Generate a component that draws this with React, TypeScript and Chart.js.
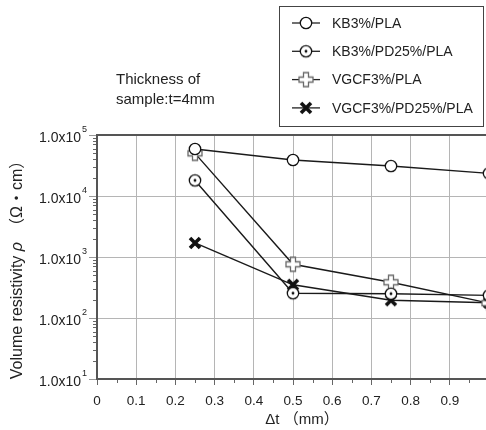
import React, { useEffect, useRef } from 'react';
import { Chart, registerables } from 'chart.js';
Chart.register(...registerables);

// ---- data ----
const xValues = [0.25, 0.5, 0.75, 1.0];
const seriesLabels = ['KB3%/PLA', 'KB3%/PD25%/PLA', 'VGCF3%/PLA', 'VGCF3%/PD25%/PLA'];
const kb3Pla = [59000, 39000, 31000, 23500];
const kb3Pd25Pla = [18000, 255, 250, 235];
const vgcf3Pla = [50000, 760, 385, 175];
const vgcf3Pd25Pla = [1700, 350, 195, 178];
const yTickValues = [1e1, 1e2, 1e3, 1e4, 1e5];
const yTickBase = '1.0x10';
const xTitle = 'Δt （mm）';
const yTitleMain = 'Volume resistivity ';
const yTitleSymbol = 'ρ';
const yTitleUnit = '　（Ω・cm）';
const noteLines = ['Thickness of', 'sample:t=4mm'];

const FONT = "'Liberation Sans', Arial, 'Noto Sans CJK JP', sans-serif";

function makeMarker(kind: number): HTMLCanvasElement {
  const c = document.createElement('canvas');
  c.width = 18;
  c.height = 18;
  const g = c.getContext('2d') as CanvasRenderingContext2D;
  g.translate(9, 9);
  if (kind === 0 || kind === 1) {
    g.beginPath();
    g.arc(0, 0, 5.7, 0, Math.PI * 2);
    g.fillStyle = '#fff';
    g.fill();
    g.lineWidth = 1.3;
    g.strokeStyle = '#111';
    g.stroke();
    if (kind === 1) {
      g.beginPath();
      g.arc(0, 0, 1.4, 0, Math.PI * 2);
      g.fillStyle = '#111';
      g.fill();
    }
  } else if (kind === 2) {
    const a = 7, w = 2.5;
    g.beginPath();
    g.moveTo(-w, -a); g.lineTo(w, -a); g.lineTo(w, -w); g.lineTo(a, -w);
    g.lineTo(a, w); g.lineTo(w, w); g.lineTo(w, a); g.lineTo(-w, a);
    g.lineTo(-w, w); g.lineTo(-a, w); g.lineTo(-a, -w); g.lineTo(-w, -w);
    g.closePath();
    g.fillStyle = '#fff';
    g.fill();
    g.lineWidth = 1.3;
    g.strokeStyle = '#6a6a6a';
    g.stroke();
  } else {
    g.beginPath();
    g.moveTo(-5, -5); g.lineTo(5, 5);
    g.moveTo(-5, 5); g.lineTo(5, -5);
    g.lineWidth = 3.6;
    g.strokeStyle = '#111';
    g.stroke();
  }
  return c;
}

export default function App() {
  const ref = useRef<HTMLCanvasElement>(null);

  useEffect(() => {
    const canvas = ref.current as HTMLCanvasElement;
    const markers = [0, 1, 2, 3].map(makeMarker);
    const seriesValues = [kb3Pla, kb3Pd25Pla, vgcf3Pla, vgcf3Pd25Pla];

    const extras = {
      id: 'extras',
      beforeDatasetsDraw(chart: any) {
        const { ctx, chartArea } = chart;
        const xs = chart.scales.x;
        const ys = chart.scales.y;
        ctx.save();
        // top frame line
        ctx.strokeStyle = '#555';
        ctx.lineWidth = 2;
        ctx.beginPath();
        ctx.moveTo(chartArea.left - 1, chartArea.top);
        ctx.lineTo(chartArea.right + 5, chartArea.top);
        ctx.stroke();
        // y minor ticks
        ctx.lineWidth = 1;
        ctx.strokeStyle = '#666';
        ctx.beginPath();
        for (let d = 1; d < 5; d++) {
          for (let m = 2; m <= 9; m++) {
            const y = Math.round(ys.getPixelForValue(m * Math.pow(10, d))) + 0.5;
            ctx.moveTo(chartArea.left - 4, y);
            ctx.lineTo(chartArea.left - 1, y);
          }
        }
        // x minor ticks
        for (let k = 0; k < 10; k++) {
          const x = Math.round(xs.getPixelForValue(0.05 + k * 0.1)) + 0.5;
          ctx.moveTo(x, chartArea.bottom + 1);
          ctx.lineTo(x, chartArea.bottom + 4);
        }
        ctx.stroke();
        // y tick labels with superscript exponent
        ctx.fillStyle = '#222';
        ys.ticks.forEach((t: any) => {
          const y = ys.getPixelForValue(t.value);
          const exp = String(Math.round(Math.log10(t.value)));
          ctx.font = `14px ${FONT}`;
          ctx.textAlign = 'right';
          ctx.textBaseline = 'middle';
          ctx.fillText(yTickBase, 81, y + 3);
          ctx.font = `9px ${FONT}`;
          ctx.textAlign = 'left';
          ctx.fillText(exp, 82, y - 5);
        });
        ctx.restore();
      },
      afterDraw(chart: any) {
        const { ctx } = chart;
        ctx.save();
        ctx.fillStyle = '#222';
        ctx.font = `15px ${FONT}`;
        // note
        ctx.textAlign = 'left';
        ctx.textBaseline = 'middle';
        ctx.fillText(noteLines[0], 116, 80);
        ctx.fillText(noteLines[1], 116, 100);
        // x title
        ctx.textAlign = 'center';
        ctx.fillText(xTitle, 302, 420);
        // y title (rotated, with italic rho)
        ctx.save();
        ctx.translate(18, 266);
        ctx.rotate(-Math.PI / 2);
        const fN = `16px ${FONT}`;
        const fI = `italic 16px ${FONT}`;
        ctx.font = fN;
        const w1 = ctx.measureText(yTitleMain).width;
        const w3 = ctx.measureText(yTitleUnit).width;
        ctx.font = fI;
        const w2 = ctx.measureText(yTitleSymbol).width;
        let x0 = -(w1 + w2 + w3) / 2;
        ctx.textAlign = 'left';
        ctx.font = fN;
        ctx.fillText(yTitleMain, x0, 0);
        x0 += w1;
        ctx.font = fI;
        ctx.fillText(yTitleSymbol, x0, 0);
        x0 += w2;
        ctx.font = fN;
        ctx.fillText(yTitleUnit, x0, 0);
        ctx.restore();
        // legend
        ctx.fillStyle = '#fff';
        ctx.fillRect(279, 6, 204, 120);
        ctx.strokeStyle = '#444';
        ctx.lineWidth = 1;
        ctx.strokeRect(279.5, 6.5, 204, 120);
        ctx.font = `14px ${FONT}`;
        ctx.textAlign = 'left';
        ctx.fillStyle = '#222';
        seriesLabels.forEach((lab, i) => {
          const y = 23 + i * 28.3;
          ctx.strokeStyle = '#222';
          ctx.lineWidth = 1.3;
          ctx.beginPath();
          ctx.moveTo(292, y);
          ctx.lineTo(320, y);
          ctx.stroke();
          const mk = markers[i];
          ctx.drawImage(mk, 306 - mk.width / 2, y - mk.height / 2);
          ctx.fillText(lab, 332, y + 1);
        });
        ctx.restore();
      },
    };

    const chart = new Chart(canvas, {
      type: 'line',
      data: {
        datasets: seriesLabels.map((label, i) => ({
          label,
          data: xValues.map((x, j) => ({ x, y: seriesValues[i][j] })),
          borderColor: '#1a1a1a',
          borderWidth: 1.4,
          pointStyle: markers[i] as any,
          pointRadius: 6,
          pointHoverRadius: 6,
          fill: false,
          tension: 0,
        })),
      },
      options: {
        responsive: false,
        animation: false,
        devicePixelRatio: 1,
        layout: { padding: { left: 0, top: 135, right: 21, bottom: 0 } },
        plugins: { legend: { display: false }, tooltip: { enabled: false } },
        scales: {
          x: {
            type: 'linear',
            min: 0,
            max: 1,
            afterFit: (s: any) => { s.height = 51; },
            ticks: {
              stepSize: 0.1,
              color: '#222',
              font: { family: FONT, size: 13.5 },
              padding: 8,
              maxRotation: 0,
              autoSkip: false,
              callback: (v: any) => {
                const n = Number(v);
                if (n >= 0.999) return '';
                return n === 0 ? '0' : n.toFixed(1);
              },
            },
            grid: { color: '#b5b5b5', lineWidth: 1, tickLength: 6, tickColor: '#666' },
            border: { display: true, color: '#555', width: 2 },
          },
          y: {
            type: 'logarithmic',
            min: 10,
            max: 1e5,
            afterFit: (s: any) => { s.width = 97; },
            afterBuildTicks: (s: any) => {
              s.ticks = yTickValues.map((v) => ({ value: v }));
            },
            ticks: { display: false },
            grid: { color: '#b5b5b5', lineWidth: 1, tickLength: 8, tickColor: '#999' },
            border: { display: true, color: '#555', width: 2 },
          },
        },
      },
      plugins: [extras],
    });
    return () => chart.destroy();
  }, []);

  return (
    <div
      style={{
        position: 'fixed',
        left: 0,
        top: 0,
        width: 486,
        height: 430,
        overflow: 'hidden',
        background: '#fff',
      }}
    >
      <canvas ref={ref} width={510} height={430} style={{ display: 'block', width: 510, height: 430 }} />
    </div>
  );
}
